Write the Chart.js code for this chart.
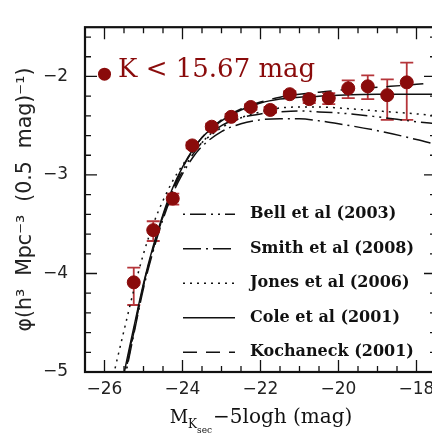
<!DOCTYPE html>
<html>
<head>
<meta charset="utf-8">
<script src="https://cdn.jsdelivr.net/npm/chart.js@4.4.1/dist/chart.umd.min.js"></script>
<style>
  html, body { margin: 0; padding: 0; background: #fff; overflow: hidden; }
  #wrap { width: 432px; height: 439px; overflow: hidden; }
</style>
</head>
<body>
<div id="wrap"><canvas id="lf" width="450" height="439"></canvas></div>
<script>
// measured points (K < 15.67 mag sample)
const magBins = [-25.25, -24.75, -24.25, -23.75, -23.25, -22.75, -22.25, -21.75, -21.25, -20.75, -20.25, -19.75, -19.25, -18.75, -18.25];
const logPhi = [-4.09, -3.56, -3.24, -2.70, -2.51, -2.41, -2.31, -2.34, -2.18, -2.23, -2.22, -2.12, -2.10, -2.19, -2.06];
const errUp = [0.15, 0.09, 0.05, 0.03, 0.03, 0.03, 0.03, 0.03, 0.03, 0.04, 0.05, 0.08, 0.11, 0.16, 0.20];
const errDown = [0.23, 0.11, 0.06, 0.03, 0.03, 0.03, 0.03, 0.03, 0.03, 0.04, 0.06, 0.10, 0.13, 0.25, 0.38];

// model curves
const curveMag = [-26, -25.75, -25.5, -25.25, -25, -24.75, -24.5, -24.25, -24, -23.75, -23.5, -23, -22.5, -22, -21.5, -21, -20.5, -20, -19, -18, -17.5];
const bell = [-6.3, -5.6, -5.05, -4.58, -4.12, -3.74, -3.42, -3.16, -2.96, -2.80, -2.67, -2.50, -2.42, -2.38, -2.36, -2.35, -2.36, -2.37, -2.41, -2.46, -2.48];
const smith = [-6.4, -5.7, -5.12, -4.62, -4.15, -3.77, -3.45, -3.19, -2.99, -2.83, -2.71, -2.56, -2.48, -2.44, -2.43, -2.43, -2.45, -2.48, -2.55, -2.64, -2.69];
const jones = [-5.45, -5.0, -4.58, -4.17, -3.8, -3.5, -3.26, -3.06, -2.90, -2.77, -2.67, -2.52, -2.42, -2.36, -2.32, -2.31, -2.31, -2.32, -2.35, -2.38, -2.40];
const cole = [-6.2, -5.55, -5.02, -4.55, -4.10, -3.72, -3.40, -3.13, -2.92, -2.75, -2.62, -2.45, -2.34, -2.27, -2.23, -2.21, -2.20, -2.19, -2.18, -2.18, -2.18];
const kochanek = [-6.3, -5.6, -5.08, -4.6, -4.12, -3.75, -3.42, -3.15, -2.93, -2.76, -2.62, -2.44, -2.33, -2.26, -2.21, -2.18, -2.16, -2.14, -2.11, -2.08, -2.06];

const xTicks = [-26, -24, -22, -20, -18];
const yTicks = [-5, -4, -3, -2];

const sampleLabel = "K < 15.67 mag";
const models = [
  { label: "Bell et al (2003)", values: bell, dash: [2, 5, 16, 5, 2, 5] },
  { label: "Smith et al (2008)", values: smith, dash: [18, 5, 2, 5] },
  { label: "Jones et al (2006)", values: jones, dash: [2, 5] },
  { label: "Cole et al (2001)", values: cole, dash: [] },
  { label: "Kochaneck (2001)", values: kochanek, dash: [14, 9] }
];

const red = "#8a0b0b";
const errRed = "#b5353a";
const minus = v => String(v).replace("-", "\u2212");

const errorBars = {
  id: "errorBars",
  beforeDatasetsDraw(chart) {
    const { ctx, scales: { x, y } } = chart;
    ctx.save();
    ctx.strokeStyle = errRed;
    ctx.lineWidth = 1.8;
    magBins.forEach((m, i) => {
      const px = x.getPixelForValue(m);
      const top = y.getPixelForValue(logPhi[i] + errUp[i]);
      const bot = y.getPixelForValue(logPhi[i] - errDown[i]);
      ctx.beginPath();
      ctx.moveTo(px, top); ctx.lineTo(px, bot);
      ctx.moveTo(px - 6.5, top); ctx.lineTo(px + 6.5, top);
      ctx.moveTo(px - 6.5, bot); ctx.lineTo(px + 6.5, bot);
      ctx.stroke();
    });
    ctx.restore();
  }
};

const frame = {
  id: "frame",
  afterDraw(chart) {
    const { ctx, chartArea: a, scales: { x, y } } = chart;
    ctx.save();
    ctx.strokeStyle = "#111";
    ctx.lineWidth = 1.3;
    ctx.beginPath();
    for (let v = -26.5; v <= -17.5; v += 0.5) {
      const px = x.getPixelForValue(v);
      const len = xTicks.includes(v) ? 12 : 6;
      ctx.moveTo(px, a.bottom); ctx.lineTo(px, a.bottom - len);
      ctx.moveTo(px, a.top); ctx.lineTo(px, a.top + len);
    }
    for (let k = 0; k <= 17; k++) {
      const v = -5 + k * 0.2;
      const py = y.getPixelForValue(v);
      const len = Math.abs(v - Math.round(v)) < 1e-6 ? 12 : 6;
      ctx.moveTo(a.left, py); ctx.lineTo(a.left + len, py);
      ctx.moveTo(a.right, py); ctx.lineTo(a.right - len, py);
    }
    ctx.stroke();
    ctx.lineWidth = 2.2;
    ctx.strokeRect(a.left, a.top, a.right - a.left, a.bottom - a.top);

    // legend for the models
    ctx.fillStyle = "#111";
    ctx.font = "bold 16px 'DejaVu Serif'";
    ctx.textBaseline = "middle";
    ctx.lineWidth = 1.5;
    models.forEach((m, i) => {
      const ly = a.top + 187 + i * 34.5;
      ctx.setLineDash(m.dash);
      ctx.beginPath();
      ctx.moveTo(a.left + 98, ly); ctx.lineTo(a.left + 150, ly);
      ctx.stroke();
      ctx.setLineDash([]);
      ctx.fillText(m.label, a.left + 165, ly);
    });

    // sample label
    ctx.fillStyle = red;
    ctx.beginPath();
    ctx.arc(x.getPixelForValue(-26), a.top + 47, 6.5, 0, Math.PI * 2);
    ctx.fill();
    ctx.font = "26px 'DejaVu Serif'";
    ctx.textBaseline = "alphabetic";
    ctx.fillText(sampleLabel, a.left + 33, a.top + 50);

    // x axis title with nested subscript
    const parts = [
      { t: "M", f: "18px 'DejaVu Serif'", dy: 0 },
      { t: "K", f: "12px 'DejaVu Serif'", dy: 5 },
      { t: "sec", f: "9px 'DejaVu Serif'", dy: 10 },
      { t: "\u22125logh (mag)", f: "20px 'DejaVu Serif'", dy: 0 }
    ];
    let total = 0;
    parts.forEach(p => { ctx.font = p.f; p.w = ctx.measureText(p.t).width; total += p.w; });
    let cx = (x.getPixelForValue(-22) - total / 2);
    ctx.fillStyle = "#111";
    parts.forEach(p => {
      ctx.font = p.f;
      ctx.fillText(p.t, cx, a.bottom + 51 + p.dy);
      cx += p.w + (p.t === "sec" ? 1 : 0);
    });
    ctx.restore();
  }
};

const datasets = [{
  label: sampleLabel,
  data: magBins.map((m, i) => ({ x: m, y: logPhi[i] })),
  showLine: false,
  pointRadius: 6.5,
  pointHoverRadius: 6.5,
  pointBackgroundColor: red,
  pointBorderColor: red,
  order: 0
}];
models.forEach(m => {
  datasets.push({
    label: m.label,
    data: curveMag.map((c, i) => ({ x: c, y: m.values[i] })),
    showLine: true,
    borderColor: "#111",
    borderWidth: 1.5,
    borderDash: m.dash,
    pointRadius: 0,
    pointHoverRadius: 0,
    cubicInterpolationMode: "monotone",
    fill: false,
    order: 1
  });
});

const tickFont = { family: "'DejaVu Sans', sans-serif", size: 17 };

new Chart(document.getElementById("lf"), {
  type: "scatter",
  data: { datasets },
  options: {
    responsive: false,
    animation: false,
    devicePixelRatio: 1,
    layout: { padding: { top: 8, right: 14, left: 0, bottom: 0 } },
    plugins: { legend: { display: false }, tooltip: { enabled: false } },
    scales: {
      x: {
        type: "linear",
        min: -26.5,
        max: -17.5,
        afterFit: s => { s.height = 67; },
        grid: { display: false, drawTicks: false },
        border: { display: false },
        ticks: {
          stepSize: 2,
          includeBounds: false,
          padding: 7,
          color: "#222",
          font: tickFont,
          callback: v => minus(v)
        }
      },
      y: {
        type: "linear",
        min: -5,
        max: -1.5,
        afterFit: s => { s.width = 85; },
        grid: { display: false, drawTicks: false },
        border: { display: false },
        title: {
          display: true,
          text: "\u03c6(h\u00b3  Mpc\u207b\u00b3  (0.5  mag)\u207b\u00b9)",
          color: "#222",
          font: { family: "'DejaVu Sans', sans-serif", size: 20.5 },
          padding: { top: 13, bottom: 0 }
        },
        ticks: {
          stepSize: 1,
          includeBounds: false,
          padding: 17,
          color: "#222",
          font: tickFont,
          callback: v => minus(v)
        }
      }
    }
  },
  plugins: [errorBars, frame]
});
</script>
</body>
</html>
